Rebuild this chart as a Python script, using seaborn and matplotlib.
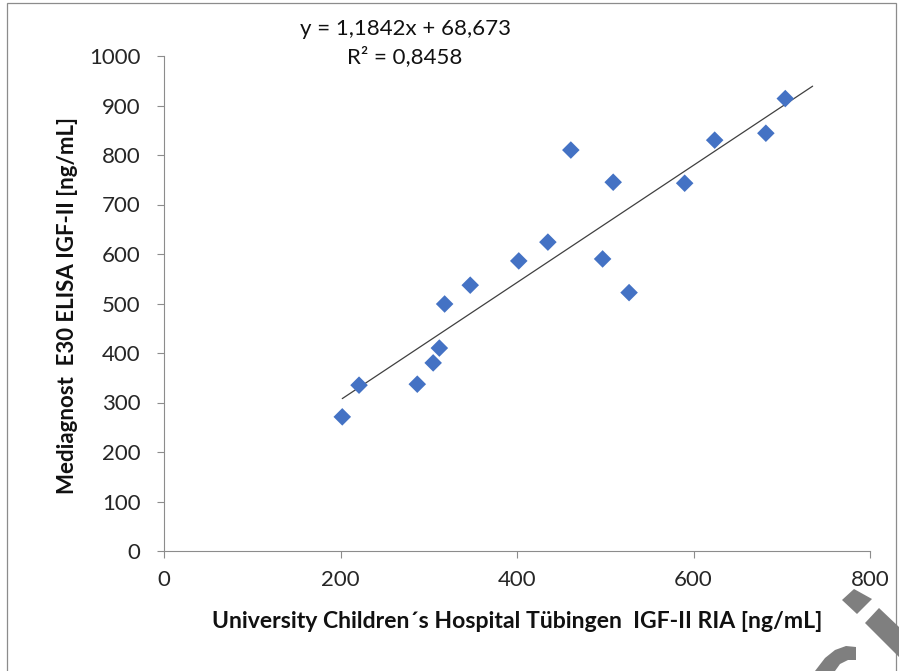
import numpy as np
import pandas as pd
import matplotlib
matplotlib.use("Agg")
import matplotlib.pyplot as plt
from matplotlib.patches import Polygon
import seaborn as sns

# ---- data ----
ria_x = [202, 221, 287, 305, 312, 318, 347, 402, 435, 461, 497, 509, 527, 590, 624, 682, 704]
elisa_y = [271, 335, 337, 380, 410, 499, 537, 586, 624, 810, 590, 745, 522, 743, 830, 844, 914]
slope = 1.1842
intercept = 68.673
trend_end = 735
eq_text = "y = 1,1842x + 68,673"
r2_text = "R² = 0,8458"
x_ticks = [0, 200, 400, 600, 800]
y_ticks = [0, 100, 200, 300, 400, 500, 600, 700, 800, 900, 1000]
x_label = "University Children´s Hospital Tübingen  IGF-II RIA [ng/mL]"
y_label = "Mediagnost  E30 ELISA IGF-II [ng/mL]"

df = pd.DataFrame({"x": ria_x, "y": elisa_y})

sns.set_theme(style="white")
plt.rcParams["font.family"] = ["Lato", "DejaVu Sans"]

W, H = 899, 671
fig = plt.figure(figsize=(W / 100, H / 100), dpi=100)
ax = fig.add_axes([164 / W, 1 - 551 / H, (870 - 164) / W, (551 - 56) / H])

sns.scatterplot(data=df, x="x", y="y", marker="D", s=80, color="#4472C4",
                edgecolor="none", ax=ax, zorder=3)

tx = np.array([min(ria_x), trend_end])
ax.plot(tx, slope * tx + intercept, color="#404040", lw=0.9, zorder=2)

ax.set_xlim(0, 800)
ax.set_ylim(0, 1000)
ax.set_xticks(x_ticks)
ax.set_yticks(y_ticks)
ax.tick_params(axis="both", which="both", direction="out", length=5, width=0.8,
               color="#8c8c8c", labelsize=16, labelcolor="#262626",
               left=True, bottom=True)
ax.tick_params(axis="y", pad=12)
ax.tick_params(axis="x", pad=9)
for side in ["top", "right"]:
    ax.spines[side].set_visible(False)
for side in ["left", "bottom"]:
    ax.spines[side].set_color("#8c8c8c")
    ax.spines[side].set_linewidth(0.8)
ax.grid(False)

ax.set_xlabel("")
ax.set_ylabel("")
fig.text(517 / W, 1 - 621 / H, x_label, ha="center", va="center",
         fontsize=16.6, fontweight="bold", color="#111111")
fig.text(68 / W, 1 - 305 / H, y_label, ha="center", va="center", rotation=90,
         fontsize=16, fontweight="bold", color="#111111")

fig.text(405 / W, 1 - 29 / H, eq_text, ha="center", va="center", fontsize=16, color="#111111")
fig.text(405 / W, 1 - 57 / H, r2_text, ha="center", va="center", fontsize=16, color="#111111")

# frame around the chart
def px(pts):
    return [(a / W, 1 - b / H) for a, b in pts]

fig.add_artist(Polygon(px([(7, 700), (7, 3), (896, 3), (896, 700)]), closed=False,
                       fill=False, edgecolor="#8c8c8c", lw=0.9,
                       transform=fig.transFigure))

# grey watermark fragments bottom-right
grey = "#7f7f7f"
fig.add_artist(Polygon(px([(842, 600), (854, 589), (872, 599), (857, 614)]),
                       closed=True, facecolor=grey, edgecolor="none",
                       transform=fig.transFigure))
fig.add_artist(Polygon(px([(865, 623), (879, 608), (899, 627), (899, 657)]),
                       closed=True, facecolor=grey, edgecolor="none",
                       transform=fig.transFigure))
fig.add_artist(Polygon(px([(815, 671), (825, 658), (835, 650), (846, 646), (856, 647),
                           (856, 660), (848, 660), (840, 664), (835, 671)]),
                       closed=True, facecolor=grey, edgecolor="none",
                       transform=fig.transFigure))

fig.savefig("out.png", dpi=100)
